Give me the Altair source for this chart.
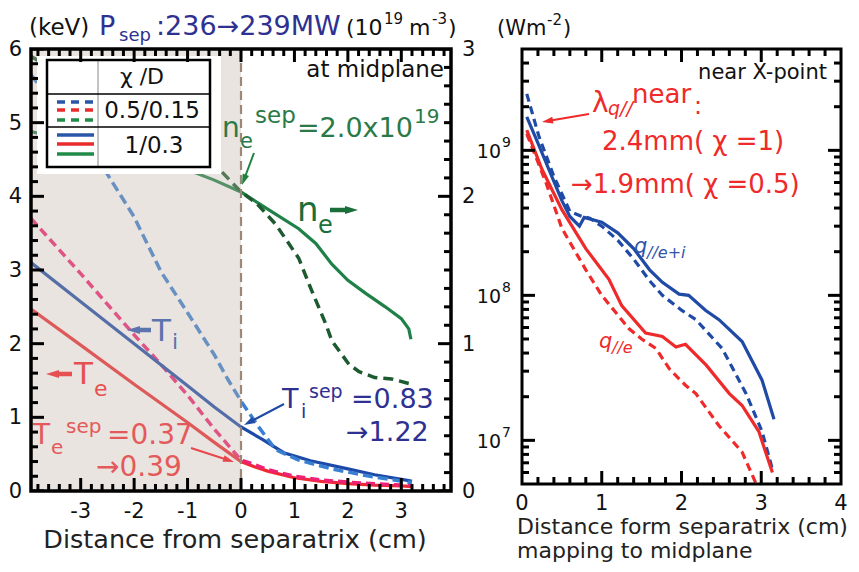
import math
import altair as alt
import pandas as pd

FONT = "DejaVu Sans"

# ---------------- left panel: profiles at midplane ----------------
X_MIN, X_MAX = -3.93, 3.93
SEP = 0.0

te_chi1_x = [-3.93, -3.0, -2.0, -1.0, -0.5, 0.0, 0.25, 0.5, 1.0, 1.5, 2.0, 2.5, 3.0, 3.2]
te_chi1_y = [2.47, 1.98, 1.45, 0.93, 0.66, 0.40, 0.33, 0.27, 0.18, 0.13, 0.10, 0.08, 0.07, 0.06]

te_chi05_x = [-3.93, -3.0, -2.0, -1.5, -1.0, -0.5, 0.0, 0.25, 0.5, 1.0, 1.5, 2.0, 2.5, 3.0, 3.2]
te_chi05_y = [3.70, 2.95, 2.12, 1.72, 1.30, 0.84, 0.42, 0.36, 0.29, 0.20, 0.15, 0.12, 0.10, 0.08, 0.08]

ti_chi1_x = [-3.93, -3.0, -2.0, -1.0, -0.5, 0.0, 0.4, 0.8, 1.3, 2.0, 2.5, 3.14, 3.2]
ti_chi1_y = [3.10, 2.57, 2.00, 1.43, 1.14, 0.87, 0.70, 0.52, 0.41, 0.30, 0.22, 0.14, 0.13]

ti_chi05_x = [-3.93, -3.5, -3.0, -2.5, -2.0, -1.5, -1.0, -0.5, -0.25, 0.0, 0.34, 0.65, 1.08, 1.7, 2.33, 3.14, 3.2]
ti_chi05_y = [5.65, 5.25, 4.80, 4.30, 3.72, 2.98, 2.42, 1.85, 1.52, 1.22, 0.86, 0.56, 0.42, 0.30, 0.21, 0.12, 0.12]

ne_chi1_x = [-3.93, -3.0, -2.0, -1.0, -0.5, 0.0, 0.47, 1.08, 1.4, 1.7, 2.0, 2.34, 2.7, 3.0, 3.14, 3.18]
ne_chi1_y = [2.44, 2.36, 2.27, 2.18, 2.11, 2.03, 1.92, 1.78, 1.68, 1.54, 1.43, 1.34, 1.25, 1.17, 1.10, 1.03]

ne_chi05_x = [-3.93, -3.0, -2.0, -1.0, -0.5, 0.0, 0.3, 0.65, 1.08, 1.3, 1.59, 1.7, 2.02, 2.21, 2.5, 2.82, 3.14]
ne_chi05_y = [2.95, 2.75, 2.55, 2.35, 2.22, 2.03, 1.95, 1.81, 1.58, 1.38, 1.13, 1.02, 0.86, 0.81, 0.77, 0.76, 0.73]

left_x_ticks = [-3, -2, -1, 0, 1, 2, 3]
left_x_labels = ["-3", "-2", "-1", "0", "1", "2", "3"]
left_y_ticks = [0, 1, 2, 3, 4, 5, 6]
left_y_labels = ["0", "1", "2", "3", "4", "5", "6"]
left_n_ticks = [0, 1, 2, 3]
left_n_labels = ["0", "1", "2", "3"]

# ---------------- right panel: q_parallel near X-point ----------------
q_ei_chi1_x = [0.06, 0.2, 0.35, 0.5, 0.6, 0.72, 0.78, 1.0, 1.2, 1.4, 1.6, 1.76, 1.97, 2.09, 2.3, 2.47, 2.76, 3.01, 3.16]
q_ei_chi1_y = [1.7e9, 1.12e9, 7.1e8, 4.5e8, 3.5e8, 3.0e8, 3.45e8, 3.2e8, 2.7e8, 2.1e8, 1.5e8, 1.23e8, 1.02e8, 1.0e8, 7.9e7, 6.8e7, 4.8e7, 2.6e7, 1.4e7]

q_ei_chi05_x = [0.06, 0.21, 0.4, 0.6, 0.72, 0.85, 1.0, 1.2, 1.4, 1.6, 1.76, 2.0, 2.18, 2.51, 2.81, 3.01, 3.14]
q_ei_chi05_y = [2.45e9, 1.26e9, 6.6e8, 3.8e8, 3.55e8, 3.4e8, 3.0e8, 2.4e8, 1.78e8, 1.26e8, 1.0e8, 7.9e7, 6.8e7, 4.3e7, 2.1e7, 1.15e7, 6.3e6]

q_e_chi1_x = [0.06, 0.25, 0.5, 0.8, 1.09, 1.25, 1.55, 1.76, 1.93, 2.05, 2.31, 2.6, 2.76, 2.97, 3.14]
q_e_chi1_y = [1.38e9, 7.4e8, 3.9e8, 2.1e8, 1.29e8, 8.5e7, 5.5e7, 5.2e7, 4.4e7, 4.6e7, 3.3e7, 2.1e7, 1.74e7, 1.15e7, 6.0e6]

q_e_chi05_x = [0.06, 0.3, 0.5, 0.8, 1.0, 1.34, 1.5, 1.68, 1.85, 2.05, 2.18, 2.47, 2.76, 2.93]
q_e_chi05_y = [1.3e9, 6.0e8, 2.9e8, 1.5e8, 1.0e8, 5.9e7, 5.0e7, 4.3e7, 3.1e7, 2.4e7, 2.1e7, 1.26e7, 8.3e6, 5.1e6]

right_x_ticks = [0, 1, 2, 3, 4]
right_x_labels = ["0", "1", "2", "3", "4"]
right_decades = [1e7, 1e8, 1e9]
right_decade_base = ["10", "10", "10"]
right_decade_exp = ["7", "8", "9"]
Q_MIN, Q_MAX = 5e6, 5e9

# ---------------- colours ----------------
TE1, TE05 = "#ee2a30", "#ee2274"
TI1, TI05 = "#1d4aa8", "#3a80d2"
NE1, NE05 = "#1f8048", "#1d5a30"
QB, QR = "#1f4aa5", "#ee2a2a"
NAVY = "#2e3192"
GREEN_T = "#2a7a48"
INK = "#111111"
TICK = "#000000"

ONE = pd.DataFrame({"k": [0]})


def txt(s, x, y, size, color=INK, align="left", italic=False):
    kw = dict(text=s, font=FONT, fontSize=size, color=color, align=align, baseline="alphabetic")
    if italic:
        kw["fontStyle"] = "italic"
    return alt.Chart(ONE).mark_text(**kw).encode(x=alt.value(x), y=alt.value(y))


def seg(x1, y1, x2, y2, color, width, dash=None):
    kw = dict(color=color, strokeWidth=width)
    if dash:
        kw["strokeDash"] = dash
    return alt.Chart(ONE).mark_rule(**kw).encode(
        x=alt.value(x1), y=alt.value(y1), x2=alt.value(x2), y2=alt.value(y2))


HEAD = "M0,-1L0.62,1L-0.62,1Z"


def arrow(x1, y1, x2, y2, color, width, head):
    dx, dy = x2 - x1, y2 - y1
    L = math.hypot(dx, dy)
    ux, uy = dx / L, dy / L
    ang = math.degrees(math.atan2(ux, -uy)) % 360
    cx, cy = x2 - ux * head / 2, y2 - uy * head / 2
    shaft = seg(x1, y1, x2 - ux * head * 0.8, y2 - uy * head * 0.8, color, width)
    tip = alt.Chart(ONE).mark_point(shape=HEAD, filled=True, color=color, size=head * head,
                                    angle=ang, opacity=1, strokeWidth=0).encode(
        x=alt.value(cx), y=alt.value(cy))
    return [shaft, tip]


def curve(xs, ys, color, sx, sy, dash=None, width=3.2):
    df = pd.DataFrame({"x": xs, "y": ys})
    kw = dict(color=color, strokeWidth=width, clip=True)
    if dash:
        kw["strokeDash"] = dash
    return alt.Chart(df).mark_line(**kw).encode(
        x=alt.X("x:Q", scale=sx, axis=None),
        y=alt.Y("y:Q", scale=sy, axis=None))


def tick_marks(segments, sx, sy, width=3, batch=5):
    # ticks as short two-point lines in data coordinates, in small batches
    out = []
    for start in range(0, len(segments), batch):
        rows = []
        for i, (x0, y0, x1, y1) in enumerate(segments[start:start + batch]):
            rows.append({"px": x0, "py": y0, "g": start + i})
            rows.append({"px": x1, "py": y1, "g": start + i})
        df = pd.DataFrame(rows)
        out.append(alt.Chart(df).mark_line(color=TICK, strokeWidth=width, clip=True).encode(
            x=alt.X("px:Q", scale=sx, axis=None),
            y=alt.Y("py:Q", scale=sy, axis=None),
            detail="g:N"))
    return out


def xlabels(vals, labels, sx, y, size=21):
    df = pd.DataFrame({"v": vals, "t": labels})
    return alt.Chart(df).mark_text(font=FONT, fontSize=size, color=INK, align="center",
                                   baseline="alphabetic").encode(
        x=alt.X("v:Q", scale=sx, axis=None), y=alt.value(y), text="t:N")


def ylabels(vals, labels, sy, x, align, size=21):
    df = pd.DataFrame({"v": vals, "t": labels})
    return alt.Chart(df).mark_text(font=FONT, fontSize=size, color=INK, align=align,
                                   baseline="middle", dy=1).encode(
        y=alt.Y("v:Q", scale=sy, axis=None), x=alt.value(x), text="t:N")


def frame(w, h, width=3.5):
    return alt.Chart(ONE).mark_rect(fillOpacity=0, stroke="black", strokeWidth=width).encode(
        x=alt.value(0), x2=alt.value(w), y=alt.value(0), y2=alt.value(h))


# ================= LEFT PANEL =================
WL, HL = 420, 442
xL = alt.Scale(domain=[X_MIN, X_MAX], nice=False, zero=False)
yT = alt.Scale(domain=[0, 6], nice=False, zero=False)
yN = alt.Scale(domain=[0, 3], nice=False, zero=False)
PX_LX = WL / (X_MAX - X_MIN)
PX_LT = HL / 6.0

t_lines = alt.layer(
    curve(te_chi1_x, te_chi1_y, TE1, xL, yT),
    curve(te_chi05_x, te_chi05_y, TE05, xL, yT, dash=[9, 5], width=3.5),
    curve(ti_chi1_x, ti_chi1_y, TI1, xL, yT),
    curve(ti_chi05_x, ti_chi05_y, TI05, xL, yT, dash=[10, 5], width=3.5),
)
n_lines = alt.layer(
    curve(ne_chi1_x, ne_chi1_y, NE1, xL, yN),
    curve(ne_chi05_x, ne_chi05_y, NE05, xL, yN, dash=[10, 6], width=3.5),
)

shade = alt.Chart(pd.DataFrame({"a": [X_MIN], "b": [SEP]})).mark_rect(
    color="#c0b2a6", opacity=0.35).encode(
    x=alt.X("a:Q", scale=xL, axis=None), x2=alt.X2("b"), y=alt.value(0), y2=alt.value(HL))
sep_line = alt.Chart(pd.DataFrame({"a": [SEP]})).mark_rule(
    color="#9c8878", strokeWidth=2.2, strokeDash=[9, 5]).encode(
    x=alt.X("a:Q", scale=xL, axis=None), y=alt.value(0), y2=alt.value(HL))

LB, LR, LG = "#2a56a8", "#e82c2c", "#1f8b47"
legend = [
    alt.Chart(ONE).mark_rect(color="white").encode(
        x=alt.value(6), x2=alt.value(190), y=alt.value(7), y2=alt.value(125)),
    seg(67, 11, 67, 118, "#888888", 1),
    seg(16, 45, 179, 45, "black", 1.5),
    seg(16, 78, 179, 78, "black", 1.5),
    alt.Chart(ONE).mark_rect(fillOpacity=0, stroke="black", strokeWidth=2.5).encode(
        x=alt.value(16), x2=alt.value(179), y=alt.value(11), y2=alt.value(118)),
    seg(26, 53, 63, 53, LB, 3.5, [8, 6]),
    seg(26, 61, 63, 61, LR, 3.5, [8, 6]),
    seg(26, 71, 63, 71, LG, 3.5, [8, 6]),
    seg(26, 86, 63, 86, LB, 3.5),
    seg(26, 95, 63, 95, LR, 3.5),
    seg(26, 105, 63, 105, LG, 3.5),
    txt("\u03c7 /D", 111, 35, 22, align="center"),
    txt("0.5/0.15", 121, 69, 23, align="center"),
    txt("1/0.3", 123, 104, 23, align="center"),
]

left_text = [
    txt("(keV)", -2, -14, 23),
    txt("P", 68, -14, 27, NAVY),
    txt("sep", 88, -8, 18, NAVY),
    txt(":236\u2192239MW", 125, -14, 27, NAVY),
    txt("(10", 315, -14, 22),
    txt("19", 353, -25, 15),
    txt("m", 378, -14, 22),
    txt("-3", 401, -25, 15),
    txt(")", 417, -14, 22),
    txt("at midplane", 413, 28, 23, align="right"),
    txt("n", 191, 88, 28, GREEN_T),
    txt("e", 209, 99, 21, GREEN_T),
    txt("sep", 224, 74, 23, GREEN_T),
    txt("=2.0x10", 266, 88, 27, GREEN_T),
    txt("19", 383, 74, 20, GREEN_T),
    *arrow(223, 104, 211, 136, "#1f8040", 2, 11),
    txt("n", 266, 172, 34, "#1a6e3a"),
    txt("e", 287, 184, 24, "#1a6e3a"),
    *arrow(299, 161, 327, 161, "#1a6e3a", 4.5, 13),
    txt("T", 121, 292, 31, "#5b74ae"),
    txt("i", 141, 300, 22, "#5b74ae"),
    *arrow(120, 281, 96, 281, "#5b74ae", 4.5, 13),
    txt("T", 43, 335, 31, "#e65050"),
    txt("e", 63, 347, 22, "#e65050"),
    *arrow(41, 325, 15, 325, "#e65050", 4.5, 13),
    txt("T", 2, 395, 28, "#e45a5a"),
    txt("e", 20, 405, 20, "#e45a5a"),
    txt("sep", 35, 384, 20, "#e45a5a"),
    txt("=0.37", 76, 395, 28, "#e45a5a"),
    txt("\u21920.39", 65, 427, 28, "#e45a5a"),
    *arrow(160, 399, 203, 413, "#e8474b", 2, 11),
    txt("T", 251, 359, 27, NAVY),
    txt("i", 270, 369, 19, NAVY),
    txt("sep", 278, 349, 19, NAVY),
    txt("=0.83", 320, 359, 27, NAVY),
    txt("\u21921.22", 315, 392, 27, NAVY),
    *arrow(253, 355, 213, 376, "#1f4aa5", 2, 11),
    txt("Distance from separatrix (cm)", 204, 499, 25.5, "#222222", align="center"),
]

MAJ, MIN = 13, 7
xmin_L = [round(i * 0.2, 1) for i in range(-19, 20) if i % 5 != 0]
ymin_L = [round(i * 0.2, 1) for i in range(1, 30) if i % 5 != 0]
nmin_L = [i * 0.125 for i in range(1, 24) if i % 8 != 0]

segs_T = []
for v, ln in [(v, MAJ) for v in left_x_ticks] + [(v, MIN) for v in xmin_L]:
    segs_T.append((v, 0.0, v, ln / PX_LT))
    segs_T.append((v, 6.0, v, 6.0 - ln / PX_LT))
for v, ln in [(v, MAJ) for v in left_y_ticks] + [(v, MIN) for v in ymin_L]:
    segs_T.append((X_MIN, v, X_MIN + ln / PX_LX, v))
segs_N = []
for v, ln in [(v, MAJ) for v in left_n_ticks] + [(v, MIN) for v in nmin_L]:
    segs_N.append((X_MAX, v, X_MAX - ln / PX_LX, v))

tick_T = alt.layer(*tick_marks(segs_T, xL, yT),
                   ylabels(left_y_ticks, left_y_labels, yT, -9, "right"))
tick_N = alt.layer(*tick_marks(segs_N, xL, yN),
                   ylabels(left_n_ticks, left_n_labels, yN, WL + 11, "left"))
lab_X = xlabels(left_x_ticks, left_x_labels, xL, HL + 27)

left = alt.layer(
    t_lines, n_lines, shade, sep_line, *legend, *left_text,
    tick_T, tick_N, lab_X, frame(WL, HL),
).resolve_scale(y="independent").properties(width=WL, height=HL)

# ================= RIGHT PANEL =================
WR, HR = 319, 435
xR = alt.Scale(domain=[0, 4], nice=False, zero=False)
yQ = alt.Scale(type="log", domain=[Q_MIN, Q_MAX], nice=False)
PX_RX = WR / 4.0
PX_DEC = HR / math.log10(Q_MAX / Q_MIN)

r_lines = alt.layer(
    curve(q_ei_chi1_x, q_ei_chi1_y, QB, xR, yQ),
    curve(q_ei_chi05_x, q_ei_chi05_y, QB, xR, yQ, dash=[8, 5]),
    curve(q_e_chi1_x, q_e_chi1_y, QR, xR, yQ),
    curve(q_e_chi05_x, q_e_chi05_y, QR, xR, yQ, dash=[8, 5]),
)

dec_df = pd.DataFrame({"v": right_decades, "base": right_decade_base, "exp": right_decade_exp})
y_labels = alt.layer(
    alt.Chart(dec_df).mark_text(align="right", baseline="middle", font=FONT, fontSize=19,
                                color=INK, dy=2).encode(
        y=alt.Y("v:Q", scale=yQ, axis=None), x=alt.value(-21), text="base:N"),
    alt.Chart(dec_df).mark_text(align="left", baseline="middle", font=FONT, fontSize=14,
                                color=INK, dy=-7).encode(
        y=alt.Y("v:Q", scale=yQ, axis=None), x=alt.value(-20), text="exp:N"),
)

right_text = [
    txt("(Wm", -25, -14, 21),
    txt("-2", 25, -24, 15),
    txt(")", 41, -14, 21),
    txt("near X-point", 305, 30, 21, align="right"),
    txt("\u03bb", 70, 63, 28, QR),
    txt("q//", 86, 66, 19, QR, italic=True),
    txt("near", 110, 54, 26, QR),
    txt(":", 172, 65, 24, QR),
    *arrow(67, 65, 20, 73, QR, 2, 11),
    txt("2.4mm( \u03c7 =1)", 80, 101, 26, QR),
    txt("\u21921.9mm( \u03c7 =0.5)", 49, 144, 26, QR),
    txt("q", 112, 204, 21, "#2f55a8", italic=True),
    txt("//e+i", 125, 209, 16, "#2f55a8", italic=True),
    txt("q", 77, 299, 21, QR, italic=True),
    txt("//e", 90, 304, 16, QR, italic=True),
    txt("Distance form separatrix (cm)", -5, 485, 22, "#222222"),
    txt("mapping to midplane", -5, 509, 22, "#222222"),
]

xmin_R = [round(i * 0.2, 1) for i in range(1, 20) if i % 5 != 0]
ymin_R = [k * 10.0 ** e for e in (6, 7, 8, 9) for k in range(2, 10) if Q_MIN < k * 10.0 ** e < Q_MAX]

segs_R = []
for v, ln in [(v, MAJ) for v in right_x_ticks[1:-1]] + [(v, MIN) for v in xmin_R]:
    segs_R.append((v, Q_MIN, v, Q_MIN * 10 ** (ln / PX_DEC)))
    segs_R.append((v, Q_MAX, v, Q_MAX / 10 ** (ln / PX_DEC)))
for v, ln in [(v, MAJ) for v in right_decades] + [(v, MIN) for v in ymin_R]:
    segs_R.append((0.0, v, ln / PX_RX, v))
    segs_R.append((4.0, v, 4.0 - ln / PX_RX, v))

right = alt.layer(
    r_lines, y_labels, *right_text, *tick_marks(segs_R, xR, yQ),
    xlabels(right_x_ticks, right_x_labels, xR, HR + 26), frame(WR, HR, 3),
).properties(width=WR, height=HR)

chart = alt.hconcat(left, right, spacing=71, bounds="flush").configure_view(
    stroke=None).properties(padding={"left": 0, "top": 4, "right": 0, "bottom": 0})

chart.save("out.html", embed_options={"renderer": "svg", "actions": False})
